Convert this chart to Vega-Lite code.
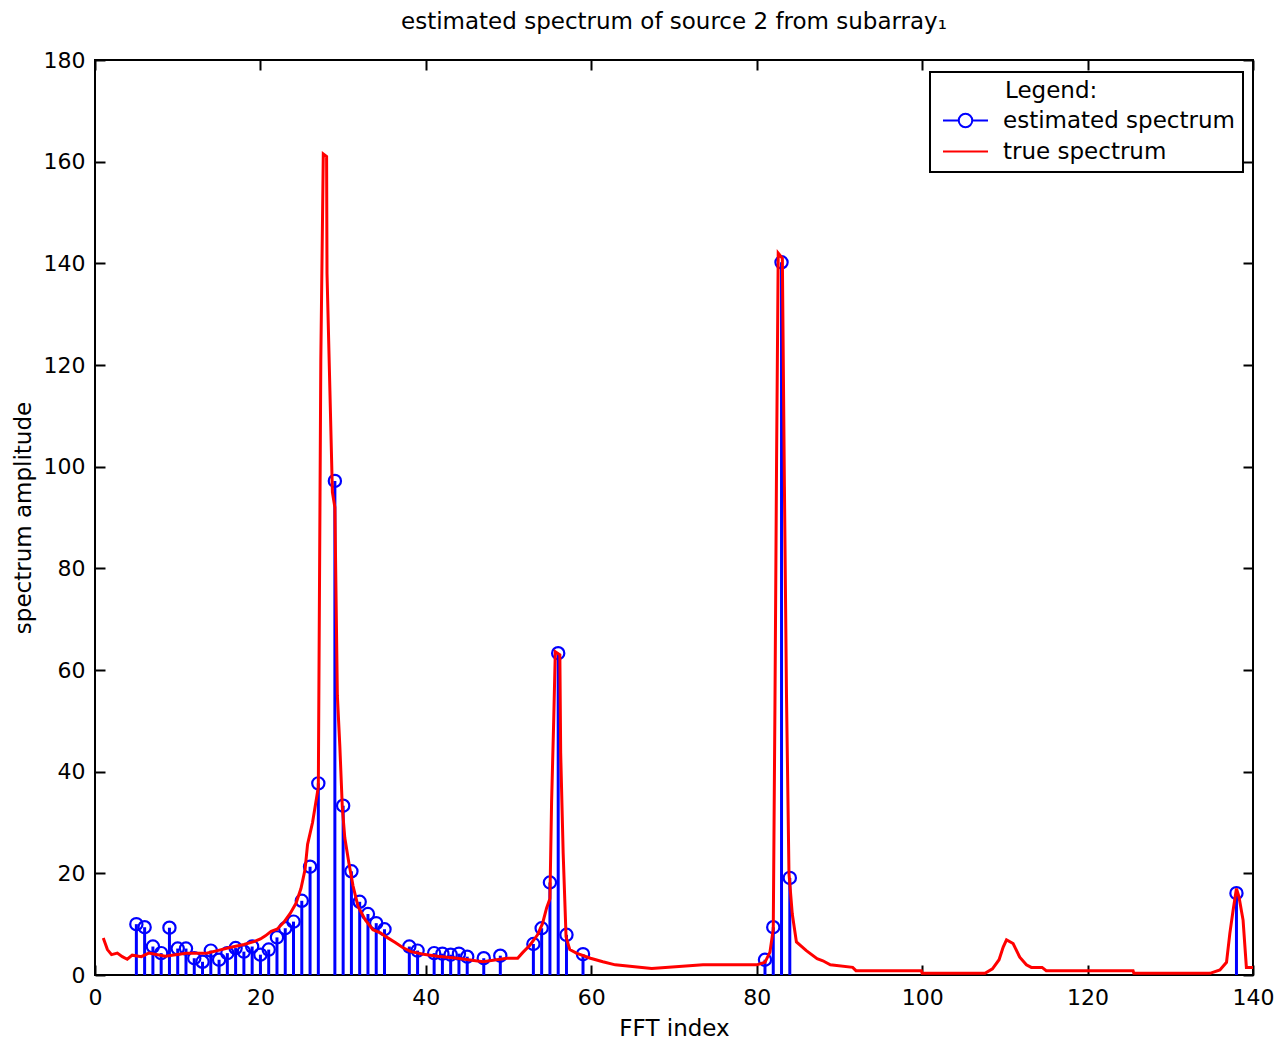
{
  "$schema": "https://vega.github.io/schema/vega-lite/v6.json",
  "width": 1158,
  "height": 915,
  "autosize": {"type": "none"},
  "padding": {"left": 95, "top": 60, "right": 26, "bottom": 65},
  "background": "white",
  "title": {"text": "estimated spectrum of source 2 from subarray₁", "fontSize": 23, "fontWeight": "normal", "font": "DejaVu Sans", "color": "black", "frame": "group", "anchor": "middle", "offset": 15},
  "datasets": {
    "est": [
      {"idx": 5, "amp": 10.0}, {"idx": 6, "amp": 9.4}, {"idx": 7, "amp": 5.6}, {"idx": 8, "amp": 4.3},
      {"idx": 9, "amp": 9.3}, {"idx": 10, "amp": 5.2}, {"idx": 11, "amp": 5.2}, {"idx": 12, "amp": 3.3},
      {"idx": 13, "amp": 2.6}, {"idx": 14, "amp": 4.8}, {"idx": 15, "amp": 3.0}, {"idx": 16, "amp": 4.3},
      {"idx": 17, "amp": 5.3}, {"idx": 18, "amp": 4.6}, {"idx": 19, "amp": 5.6}, {"idx": 20, "amp": 4.0},
      {"idx": 21, "amp": 5.0}, {"idx": 22, "amp": 7.4}, {"idx": 23, "amp": 9.2}, {"idx": 24, "amp": 10.5},
      {"idx": 25, "amp": 14.6}, {"idx": 26, "amp": 21.3}, {"idx": 27, "amp": 37.7}, {"idx": 29, "amp": 97.2},
      {"idx": 30, "amp": 33.3}, {"idx": 31, "amp": 20.4}, {"idx": 32, "amp": 14.4}, {"idx": 33, "amp": 12.0},
      {"idx": 34, "amp": 10.2}, {"idx": 35, "amp": 9.0}, {"idx": 38, "amp": 5.6}, {"idx": 39, "amp": 4.8},
      {"idx": 41, "amp": 4.3}, {"idx": 42, "amp": 4.2}, {"idx": 43, "amp": 4.0}, {"idx": 44, "amp": 4.2},
      {"idx": 45, "amp": 3.6}, {"idx": 47, "amp": 3.3}, {"idx": 49, "amp": 3.8}, {"idx": 53, "amp": 6.1},
      {"idx": 54, "amp": 9.2}, {"idx": 55, "amp": 18.2}, {"idx": 56, "amp": 63.3}, {"idx": 57, "amp": 7.9},
      {"idx": 59, "amp": 4.1}, {"idx": 81, "amp": 3.0}, {"idx": 82, "amp": 9.4}, {"idx": 83, "amp": 140.2},
      {"idx": 84, "amp": 19.1}, {"idx": 138, "amp": 16.1}
    ],
    "true": [
      {"idx": 1, "amp": 7.3}, {"idx": 1.5, "amp": 5.0}, {"idx": 2, "amp": 4.0}, {"idx": 2.7, "amp": 4.3},
      {"idx": 3.3, "amp": 3.6}, {"idx": 3.9, "amp": 3.1}, {"idx": 4.5, "amp": 3.9}, {"idx": 5.6, "amp": 3.6},
      {"idx": 6.5, "amp": 4.3}, {"idx": 8.5, "amp": 3.7}, {"idx": 11, "amp": 4.3}, {"idx": 13.5, "amp": 4.3},
      {"idx": 14.8, "amp": 4.8}, {"idx": 16.3, "amp": 5.4}, {"idx": 18, "amp": 6.0}, {"idx": 19.3, "amp": 6.6},
      {"idx": 20, "amp": 7.1}, {"idx": 20.6, "amp": 7.7}, {"idx": 21.3, "amp": 8.6}, {"idx": 22, "amp": 9.0},
      {"idx": 22.8, "amp": 10.3}, {"idx": 23.6, "amp": 12.1}, {"idx": 24.3, "amp": 14.1}, {"idx": 24.9, "amp": 17.0},
      {"idx": 25.4, "amp": 20.8}, {"idx": 25.7, "amp": 25.7}, {"idx": 26.3, "amp": 30.0}, {"idx": 26.7, "amp": 34.0},
      {"idx": 27.0, "amp": 37.0}, {"idx": 27.3, "amp": 121.0}, {"idx": 27.6, "amp": 161.5}, {"idx": 28.0, "amp": 161.0},
      {"idx": 28.05, "amp": 138.0}, {"idx": 28.4, "amp": 115.0}, {"idx": 28.7, "amp": 95.0}, {"idx": 29.0, "amp": 92.0},
      {"idx": 29.3, "amp": 55.0}, {"idx": 29.6, "amp": 45.0}, {"idx": 29.9, "amp": 33.0}, {"idx": 30.2, "amp": 27.0},
      {"idx": 30.7, "amp": 22.0}, {"idx": 31.2, "amp": 17.5}, {"idx": 31.8, "amp": 13.5}, {"idx": 32.7, "amp": 10.8},
      {"idx": 33.6, "amp": 8.9}, {"idx": 34.5, "amp": 8.3}, {"idx": 35.3, "amp": 7.4}, {"idx": 36.3, "amp": 6.4},
      {"idx": 37.2, "amp": 5.4}, {"idx": 38.2, "amp": 4.6}, {"idx": 39.7, "amp": 4.1}, {"idx": 41.4, "amp": 3.7},
      {"idx": 43.8, "amp": 3.3}, {"idx": 46.9, "amp": 2.6}, {"idx": 49.8, "amp": 3.3}, {"idx": 51.1, "amp": 3.3},
      {"idx": 51.7, "amp": 4.4}, {"idx": 52.6, "amp": 5.9}, {"idx": 53.5, "amp": 7.9}, {"idx": 54.1, "amp": 10.1},
      {"idx": 54.6, "amp": 13.2}, {"idx": 55.0, "amp": 15.0}, {"idx": 55.2, "amp": 34.0}, {"idx": 55.45, "amp": 49.6},
      {"idx": 55.65, "amp": 63.6}, {"idx": 56.2, "amp": 63.0}, {"idx": 56.3, "amp": 43.7}, {"idx": 56.6, "amp": 24.0},
      {"idx": 56.95, "amp": 7.5}, {"idx": 57.4, "amp": 5.0}, {"idx": 58.2, "amp": 4.3}, {"idx": 59.9, "amp": 3.3},
      {"idx": 61.4, "amp": 2.6}, {"idx": 62.9, "amp": 2.0}, {"idx": 67.3, "amp": 1.3}, {"idx": 73.5, "amp": 2.0},
      {"idx": 80.0, "amp": 2.0}, {"idx": 81.0, "amp": 2.5}, {"idx": 81.6, "amp": 4.5}, {"idx": 82.0, "amp": 9.0},
      {"idx": 82.2, "amp": 52.0}, {"idx": 82.4, "amp": 101.0}, {"idx": 82.6, "amp": 142.0}, {"idx": 83.1, "amp": 141.0},
      {"idx": 83.35, "amp": 96.0}, {"idx": 83.6, "amp": 55.0}, {"idx": 83.9, "amp": 20.0}, {"idx": 84.3, "amp": 12.0},
      {"idx": 84.8, "amp": 6.5}, {"idx": 86.0, "amp": 4.8}, {"idx": 87.3, "amp": 3.2}, {"idx": 88.0, "amp": 2.8},
      {"idx": 88.9, "amp": 2.0}, {"idx": 91.6, "amp": 1.5}, {"idx": 92.0, "amp": 0.85}, {"idx": 99.9, "amp": 0.85},
      {"idx": 100.0, "amp": 0.33}, {"idx": 107.6, "amp": 0.33}, {"idx": 108.5, "amp": 1.2}, {"idx": 109.3, "amp": 3.0},
      {"idx": 109.8, "amp": 5.5}, {"idx": 110.2, "amp": 6.9}, {"idx": 111.0, "amp": 6.2}, {"idx": 111.8, "amp": 3.5},
      {"idx": 112.6, "amp": 2.0}, {"idx": 113.2, "amp": 1.5}, {"idx": 114.5, "amp": 1.5}, {"idx": 115.0, "amp": 0.85},
      {"idx": 125.5, "amp": 0.85}, {"idx": 125.6, "amp": 0.33}, {"idx": 134.8, "amp": 0.33}, {"idx": 136.0, "amp": 1.0},
      {"idx": 136.8, "amp": 2.5}, {"idx": 137.2, "amp": 8.2}, {"idx": 137.6, "amp": 12.8}, {"idx": 138.0, "amp": 17.0},
      {"idx": 138.3, "amp": 15.4}, {"idx": 138.8, "amp": 10.8}, {"idx": 139.2, "amp": 1.5}, {"idx": 140.0, "amp": 1.5}
    ]
  },
  "layer": [
    {
      "data": {"name": "est"},
      "mark": {"type": "rule", "strokeWidth": 3},
      "encoding": {
        "x": {"field": "idx", "type": "quantitative", "scale": {"domain": [0, 140], "nice": false, "zero": false},
              "axis": {"orient": "top", "labels": false, "title": null, "values": [0, 20, 40, 60, 80, 100, 120, 140]}},
        "y": {"field": "amp", "type": "quantitative", "scale": {"domain": [0, 180], "nice": false},
              "axis": {"orient": "right", "labels": false, "title": null, "values": [0, 20, 40, 60, 80, 100, 120, 140, 160, 180]}},
        "y2": {"datum": 0},
        "color": {"datum": "estimated spectrum"}
      }
    },
    {
      "data": {"name": "est"},
      "mark": {"type": "point", "shape": "circle", "filled": false, "size": 150, "strokeWidth": 2.2, "opacity": 1},
      "encoding": {
        "x": {"field": "idx", "type": "quantitative", "axis": null},
        "y": {"field": "amp", "type": "quantitative", "axis": null},
        "color": {"datum": "estimated spectrum"}
      }
    },
    {
      "data": {"name": "true"},
      "mark": {"type": "line", "strokeWidth": 3},
      "encoding": {
        "x": {"field": "idx", "type": "quantitative",
              "axis": {"orient": "bottom", "title": "FFT index", "values": [0, 20, 40, 60, 80, 100, 120, 140], "labelFlush": false, "labelPadding": 22, "titlePadding": 9}},
        "y": {"field": "amp", "type": "quantitative",
              "axis": {"orient": "left", "title": "spectrum amplitude", "values": [0, 20, 40, 60, 80, 100, 120, 140, 160, 180], "labelFlush": false, "labelPadding": 20, "titlePadding": 8}},
        "color": {
          "datum": "true spectrum",
          "scale": {"domain": ["estimated spectrum", "true spectrum"], "range": ["#0000ff", "#ff0000"]},
          "legend": {
            "title": "Legend:",
            "orient": "none",
            "legendX": 835,
            "legendY": 12,
            "strokeColor": "black",
            "fillColor": "white",
            "padding": 8,
            "symbolSize": 225,
            "symbolStrokeWidth": 2,
            "labelOffset": 42,
            "labelLimit": 500,
            "rowPadding": 7,
            "titlePadding": 6,
            "labelFontSize": 23,
            "titleFontSize": 23,
            "titleFontWeight": "normal",
            "labelFont": "DejaVu Sans",
            "titleFont": "DejaVu Sans",
            "labelColor": "black",
            "titleColor": "black",
            "encode": {
              "symbols": {"update": {
                "x": {"value": 27.5},
                "shape": [{"test": "datum.label === 'true spectrum'", "value": "M-3,0H3"}, {"value": "M-3,0H-0.9M0.9,0H3M-0.9,0A0.9,0.9 0 1,1 0.9,0A0.9,0.9 0 1,1 -0.9,0"}],
                "fill": {"value": "transparent"},
                "strokeWidth": {"value": 2}
              }},
              "title": {"update": {"dx": {"value": 67}}},
              "legend": {"update": {"strokeWidth": {"value": 2}}}
            }
          }
        }
      }
    }
  ],
  "config": {
    "view": {"stroke": "black", "strokeWidth": 2},
    "font": "DejaVu Sans",
    "axis": {
      "grid": false,
      "domain": false,
      "tickColor": "black",
      "tickWidth": 2,
      "tickSize": -10,
      "labelFontSize": 22,
      "labelColor": "black",
      "labelFont": "DejaVu Sans",
      "labelPadding": 20,
      "titleFont": "DejaVu Sans",
      "titleFontSize": 23,
      "titleFontWeight": "normal",
      "titleColor": "black"
    }
  }
}
